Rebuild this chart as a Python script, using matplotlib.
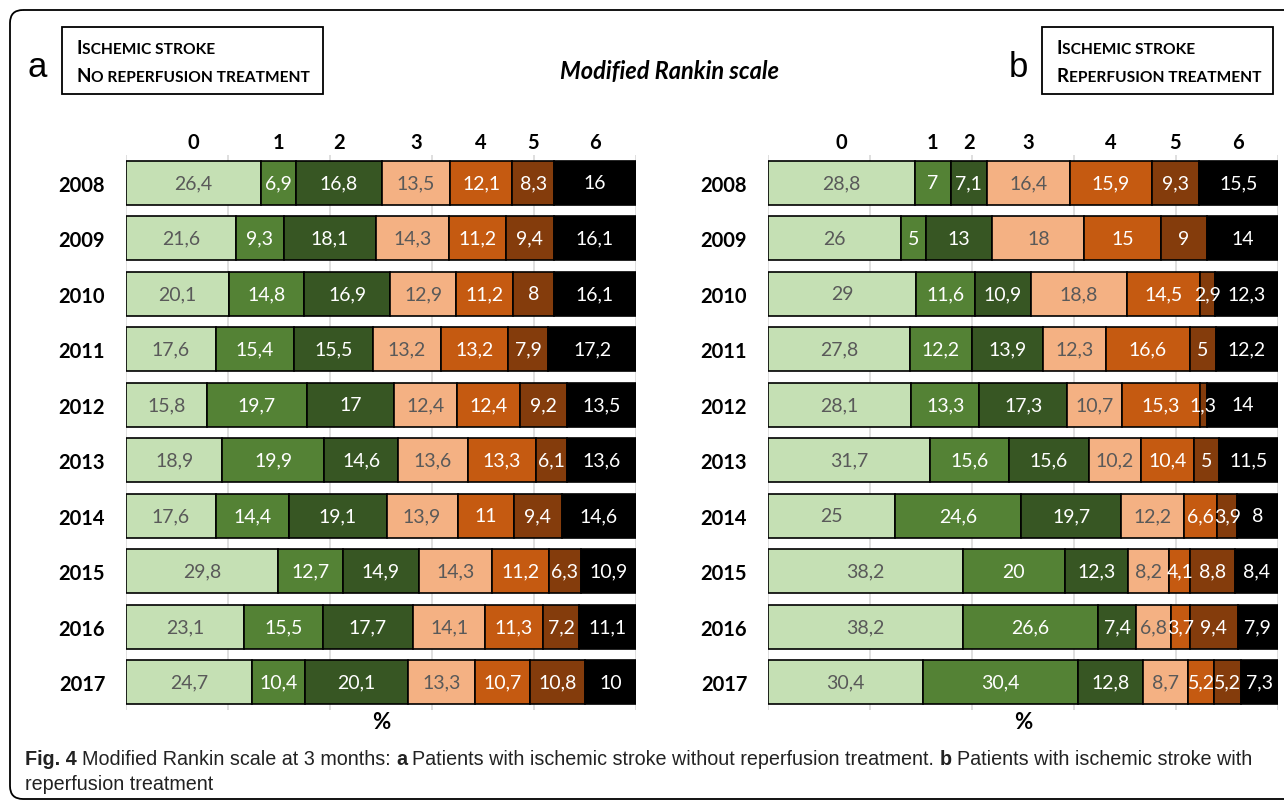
import numpy as np
import matplotlib
matplotlib.use("Agg")
import matplotlib.pyplot as plt
from matplotlib.patches import FancyBboxPatch, Rectangle

plt.rcParams['font.family'] = ['Lato', 'DejaVu Sans']

# Data: modified Rankin scale (% of patients) by year
years = ["2008", "2009", "2010", "2011", "2012", "2013", "2014", "2015", "2016", "2017"]
mrs_levels = ["0", "1", "2", "3", "4", "5", "6"]

# a: ischemic stroke, no reperfusion treatment
no_reperfusion = [
    [26.4, 6.9, 16.8, 13.5, 12.1, 8.3, 16],
    [21.6, 9.3, 18.1, 14.3, 11.2, 9.4, 16.1],
    [20.1, 14.8, 16.9, 12.9, 11.2, 8, 16.1],
    [17.6, 15.4, 15.5, 13.2, 13.2, 7.9, 17.2],
    [15.8, 19.7, 17, 12.4, 12.4, 9.2, 13.5],
    [18.9, 19.9, 14.6, 13.6, 13.3, 6.1, 13.6],
    [17.6, 14.4, 19.1, 13.9, 11, 9.4, 14.6],
    [29.8, 12.7, 14.9, 14.3, 11.2, 6.3, 10.9],
    [23.1, 15.5, 17.7, 14.1, 11.3, 7.2, 11.1],
    [24.7, 10.4, 20.1, 13.3, 10.7, 10.8, 10],
]

# b: ischemic stroke, reperfusion treatment
reperfusion = [
    [28.8, 7, 7.1, 16.4, 15.9, 9.3, 15.5],
    [26, 5, 13, 18, 15, 9, 14],
    [29, 11.6, 10.9, 18.8, 14.5, 2.9, 12.3],
    [27.8, 12.2, 13.9, 12.3, 16.6, 5, 12.2],
    [28.1, 13.3, 17.3, 10.7, 15.3, 1.3, 14],
    [31.7, 15.6, 15.6, 10.2, 10.4, 5, 11.5],
    [25, 24.6, 19.7, 12.2, 6.6, 3.9, 8],
    [38.2, 20, 12.3, 8.2, 4.1, 8.8, 8.4],
    [38.2, 26.6, 7.4, 6.8, 3.7, 9.4, 7.9],
    [30.4, 30.4, 12.8, 8.7, 5.2, 5.2, 7.3],
]

colors = ["#C5E0B4", "#548235", "#375623", "#F4B183", "#C55A11", "#843C0C", "#000000"]
text_colors = ["#595959", "white", "white", "#595959", "white", "white", "white"]

W, H = 1284, 803
fig = plt.figure(figsize=(W / 100, H / 100), dpi=100)

# background layer in pixel units for frame, boxes and free text
bg = fig.add_axes([0, 0, 1, 1], zorder=0)
bg.set_xlim(0, W)
bg.set_ylim(H, 0)
bg.axis("off")
bg.add_patch(FancyBboxPatch((10, 11), 1320, 789, boxstyle="round,pad=0,rounding_size=13",
                            fill=False, edgecolor="black", linewidth=1.3))


def chain(ax, x, y, parts, **common):
    """Draw text pieces one after another on one baseline."""
    first_txt, first_kw, _ = parts[0]
    prev = ax.text(x, y, first_txt, va="baseline", ha="left", **common, **first_kw)
    for txt, kw, gap in parts[1:]:
        prev = ax.annotate(txt, xy=(1, 0), xycoords=prev, xytext=(gap, 0),
                           textcoords="offset points", va="bottom", ha="left",
                           **common, **kw)
    return prev


def small_caps(ax, x, y, s, big=13.5, small=11.2):
    chain(ax, x, y, [(s[0], dict(fontsize=big), 0), (s[1:].upper(), dict(fontsize=small), 0.3)],
          fontweight="bold", color="black")


# header boxes
bg.add_patch(Rectangle((62, 28), 261, 67, fill=False, edgecolor="black", linewidth=1.3))
small_caps(bg, 76, 54, "Ischemic stroke")
small_caps(bg, 76, 82, "No reperfusion treatment")
bg.add_patch(Rectangle((1042, 28), 231, 67, fill=False, edgecolor="black", linewidth=1.3))
small_caps(bg, 1056, 54, "Ischemic stroke")
small_caps(bg, 1056, 82, "Reperfusion treatment")

bg.text(37, 77, "a", fontsize=25, ha="center", va="baseline", family=["Liberation Sans", "DejaVu Sans"])
bg.text(1018, 77, "b", fontsize=25, ha="center", va="baseline", family=["Liberation Sans", "DejaVu Sans"])
bg.text(670, 79, "Modified Rankin scale", fontsize=17, fontweight="bold", fontstyle="italic",
        ha="center", va="baseline")

# caption
cap_font = dict(family=["Liberation Sans", "DejaVu Sans"], fontsize=14.2, color="#222222")
chain(bg, 25, 765, [
    ("Fig. 4", dict(fontweight="bold"), 0),
    ("Modified Rankin scale at 3 months:", dict(), 3.8),
    ("a", dict(fontweight="bold"), 3.8),
    ("Patients with ischemic stroke without reperfusion treatment.", dict(), 3.8),
    ("b", dict(fontweight="bold"), 3.8),
    ("Patients with ischemic stroke with", dict(), 3.8),
], **cap_font)
bg.text(25, 790, "reperfusion treatment", va="baseline", ha="left", **cap_font)


def fmt(v):
    return f"{v:g}".replace(".", ",")


def draw_panel(rect, data):
    ax = fig.add_axes(rect, zorder=2)
    data = np.array(data)
    ypos = np.arange(len(years))
    left = np.zeros(len(years))
    for j in range(len(mrs_levels)):
        vals = data[:, j]
        bars = ax.barh(ypos, vals, left=left, height=0.8, color=colors[j],
                       edgecolor="black", linewidth=1.2, zorder=3)
        ax.bar_label(bars, labels=[fmt(v) for v in vals], label_type="center",
                     color=text_colors[j], fontsize=14, zorder=4)
        left += vals
    ax.set_xlim(0, 100)
    ax.set_ylim(9.5, -0.5)
    ax.set_yticks(ypos, years)
    for lab in ax.get_yticklabels():
        lab.set_fontweight("bold")
        lab.set_fontsize(14.5)
    ax.tick_params(axis="y", length=0, pad=15)
    ax.set_xticks(np.arange(0, 101, 20))
    ax.tick_params(axis="x", length=0, labelbottom=False)
    ax.grid(axis="x", color="#d9d9d9", linewidth=1.2, zorder=0)
    ax.set_axisbelow(True)
    for sp in ax.spines.values():
        sp.set_visible(False)
    ax.set_xlabel("%", fontweight="bold", fontsize=16, labelpad=1)
    # mRS level labels above the first row's segments
    first = data[0]
    centers = np.cumsum(first) - first / 2
    for c, lab in zip(centers, mrs_levels):
        ax.annotate(lab, xy=(c, 1), xycoords=("data", "axes fraction"), xytext=(0, 2),
                    textcoords="offset points", ha="center", va="bottom",
                    fontweight="bold", fontsize=14.5)
    return ax


draw_panel([126 / W, 1 - 711 / H, 510 / W, 555 / H], no_reperfusion)
draw_panel([768 / W, 1 - 711 / H, 510 / W, 555 / H], reperfusion)

fig.savefig("out.png", dpi=100)
